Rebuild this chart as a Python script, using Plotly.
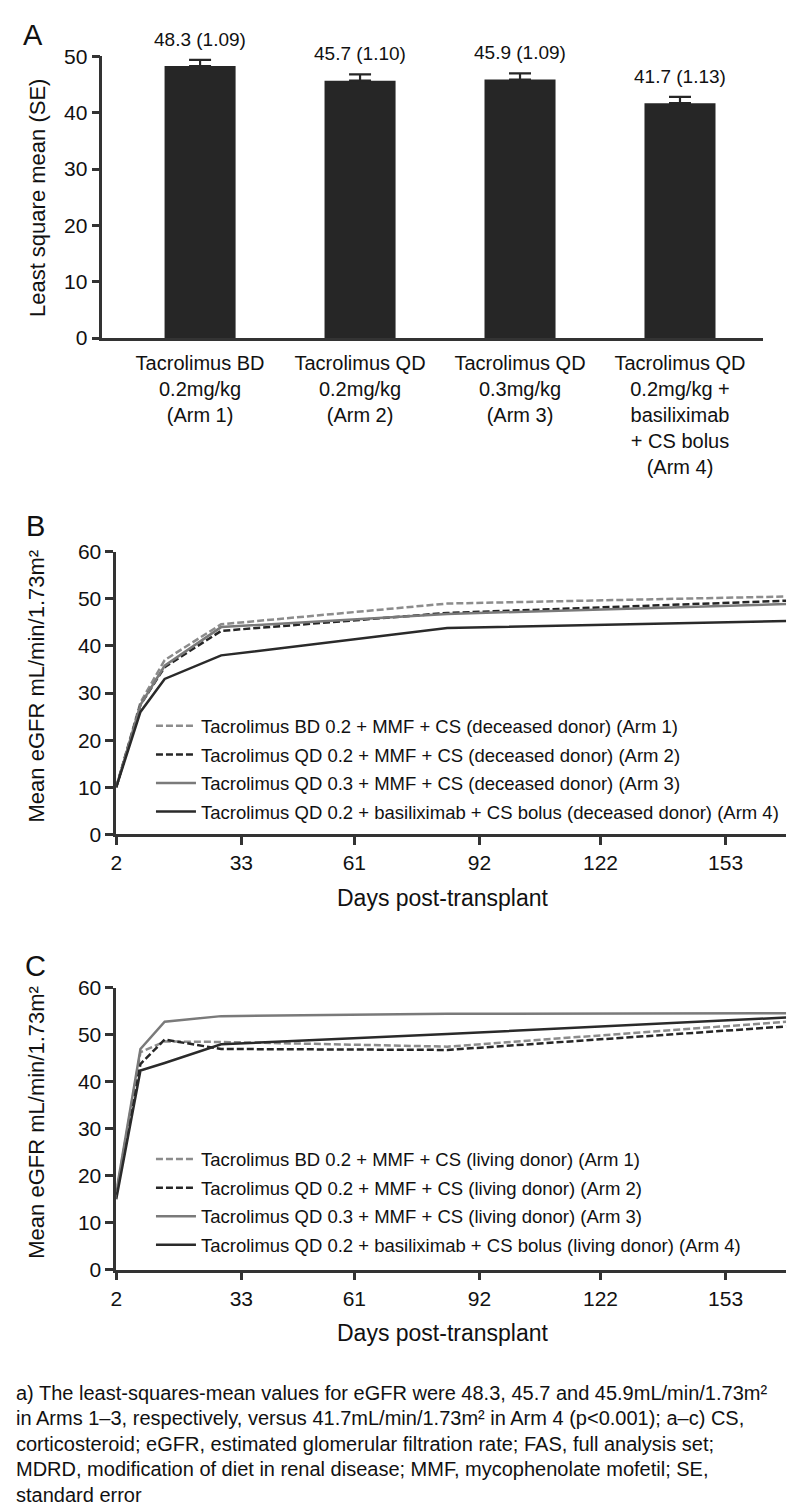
import plotly.graph_objects as go

# ---------------- data ----------------
arm_categories = ["Tacrolimus BD<br>0.2mg/kg<br>(Arm 1)",
                  "Tacrolimus QD<br>0.2mg/kg<br>(Arm 2)",
                  "Tacrolimus QD<br>0.3mg/kg<br>(Arm 3)",
                  "Tacrolimus QD<br>0.2mg/kg +<br>basiliximab<br>+ CS bolus<br>(Arm 4)"]
ls_mean = [48.3, 45.7, 45.9, 41.7]
ls_se = [1.09, 1.10, 1.09, 1.13]

days = [2, 8, 14, 28, 84, 168]
day_ticks = [2, 33, 61, 92, 122, 153]

b_arm1 = [10, 28.0, 37.0, 44.6, 49.0, 50.5]
b_arm2 = [10, 27.5, 35.5, 43.2, 47.0, 49.6]
b_arm3 = [10, 27.5, 35.8, 44.0, 46.8, 48.9]
b_arm4 = [10, 26.0, 33.0, 38.0, 43.8, 45.3]

c_arm1 = [16.0, 46.3, 48.6, 48.5, 47.5, 52.8]
c_arm2 = [16.0, 43.8, 49.0, 47.0, 46.8, 51.8]
c_arm3 = [16.5, 47.0, 52.8, 54.0, 54.5, 54.6]
c_arm4 = [15.0, 42.4, 44.0, 48.0, 50.2, 53.7]

names_b = ["Tacrolimus BD 0.2 + MMF + CS (deceased donor) (Arm 1)",
           "Tacrolimus QD 0.2 + MMF + CS (deceased donor) (Arm 2)",
           "Tacrolimus QD 0.3 + MMF + CS (deceased donor) (Arm 3)",
           "Tacrolimus QD 0.2 + basiliximab + CS bolus (deceased donor) (Arm 4)"]
names_c = ["Tacrolimus BD 0.2 + MMF + CS (living donor) (Arm 1)",
           "Tacrolimus QD 0.2 + MMF + CS (living donor) (Arm 2)",
           "Tacrolimus QD 0.3 + MMF + CS (living donor) (Arm 3)",
           "Tacrolimus QD 0.2 + basiliximab + CS bolus (living donor) (Arm 4)"]

y_title_b = "Mean eGFR mL/min/1.73m²"
y_title_c = "Mean eGFR mL/min/1.73m²"

footnote_lines = [
    "a) The least-squares-mean values for eGFR were 48.3, 45.7 and 45.9mL/min/1.73m²",
    "in Arms 1–3, respectively, versus 41.7mL/min/1.73m² in Arm 4 (p<0.001); a–c) CS,",
    "corticosteroid; eGFR, estimated glomerular filtration rate; FAS, full analysis set;",
    "MDRD, modification of diet in renal disease; MMF, mycophenolate mofetil; SE,",
    "standard error",
]

# ---------------- styles ----------------
FONT = "Arial, Liberation Sans, sans-serif"
AX = "#333333"
TXT = "#111111"
styles = [dict(color="#8c8c8c", dash="7px,3px"),
          dict(color="#262626", dash="7px,3px"),
          dict(color="#7a7a7a", dash="solid"),
          dict(color="#2a2a2a", dash="solid")]

H = 1504.0
W = 800.0


def py(p):
    return 1 - p / H


fig = go.Figure()

# Panel A bars
fig.add_trace(go.Bar(
    x=list(range(len(ls_mean))), y=ls_mean, width=0.444,
    marker=dict(color="#262626", line=dict(width=0)),
    error_y=dict(type="data", array=ls_se, arrayminus=[0] * len(ls_se), symmetric=False,
                 color="#262626", thickness=2.2, width=11),
    xaxis="x", yaxis="y", showlegend=False, hoverinfo="skip"))

for i, (m, s) in enumerate(zip(ls_mean, ls_se)):
    fig.add_annotation(x=i, y=m + s, xref="x", yref="y", text=f"{m} ({s:.2f})",
                       showarrow=False, yanchor="bottom", yshift=8,
                       font=dict(size=19, color=TXT, family=FONT))

# Panel B lines
for vals, nm, st in zip([b_arm1, b_arm2, b_arm3, b_arm4], names_b, styles):
    fig.add_trace(go.Scatter(x=days, y=vals, mode="lines", name=nm,
                             line=dict(color=st["color"], dash=st["dash"], width=2.5),
                             xaxis="x2", yaxis="y2", legend="legend", legendgroup=nm))
# Panel C lines
for vals, nm, st in zip([c_arm1, c_arm2, c_arm3, c_arm4], names_c, styles):
    fig.add_trace(go.Scatter(x=days, y=vals, mode="lines", name=nm,
                             line=dict(color=st["color"], dash=st["dash"], width=2.5),
                             xaxis="x3", yaxis="y3", legend="legend2", legendgroup=nm))

axis_common = dict(showline=True, linecolor=AX, linewidth=2.5, ticks="outside",
                   tickcolor=AX, tickwidth=2.5, ticklen=8, showgrid=False, zeroline=False,
                   tickfont=dict(size=21, color=TXT, family=FONT))

legend_common = dict(xanchor="left", yanchor="top", tracegroupgap=1.5, itemwidth=40,
                     font=dict(size=18.5, color=TXT, family=FONT), bgcolor="rgba(0,0,0,0)")

fig.update_layout(
    width=800, height=1504, margin=dict(l=0, r=0, t=0, b=0),
    paper_bgcolor="white", plot_bgcolor="white",
    font=dict(family=FONT, color=TXT),
    xaxis=dict(domain=[89 / W, 755 / W], range=[-0.611, 3.521], anchor="y",
               tickvals=list(range(len(arm_categories))), ticktext=arm_categories,
               showline=True, linecolor=AX, linewidth=2.5, ticks="", showgrid=False,
               zeroline=False, ticklabelstandoff=5,
               tickfont=dict(size=20, color=TXT, family=FONT)),
    yaxis=dict(domain=[py(323), py(37)], range=[0, 50], dtick=10, anchor="x", **axis_common),
    xaxis2=dict(domain=[103 / W, 778 / W], range=[2, 168], tickvals=day_ticks, anchor="y2",
                **axis_common),
    yaxis2=dict(domain=[py(827), py(540)], range=[0, 60], dtick=10, anchor="x2", **axis_common),
    xaxis3=dict(domain=[103 / W, 778 / W], range=[2, 168], tickvals=day_ticks, anchor="y3",
                **axis_common),
    yaxis3=dict(domain=[py(1269), py(983)], range=[0, 60], dtick=10, anchor="x3", **axis_common),
    legend=dict(x=138 / W, y=py(698), **legend_common),
    legend2=dict(x=138 / W, y=py(1138), **legend_common),
)

# panel letters
for letter, cx, cy in [("A", 19, 15), ("B", 22, 514), ("C", 22, 961)]:
    fig.add_annotation(x=cx / W, y=py(cy), xref="paper", yref="paper", text=letter,
                       showarrow=False, xanchor="center", yanchor="middle",
                       font=dict(size=29, color=TXT, family=FONT))

# y titles
for txt, cy in [("Least square mean (SE)", 181), (y_title_b, 676), (y_title_c, 1119)]:
    fig.add_annotation(x=23 / W, y=py(cy), xref="paper", yref="paper", text=txt,
                       textangle=-90, showarrow=False, xanchor="center", yanchor="middle",
                       font=dict(size=22, color=TXT, family=FONT))

# x titles
for cy in [892, 1333]:
    fig.add_annotation(x=432 / W, y=py(cy), xref="paper", yref="paper",
                       text="Days post-transplant", showarrow=False,
                       xanchor="center", yanchor="middle",
                       font=dict(size=23, color=TXT, family=FONT))

# footnote
for k, line in enumerate(footnote_lines):
    fig.add_annotation(x=0, y=py(1394 + 26 * k), xref="paper", yref="paper", text=line,
                       showarrow=False, xanchor="left", yanchor="middle", align="left",
                       font=dict(size=20, color=TXT, family=FONT))

fig.write_html("out.html")
